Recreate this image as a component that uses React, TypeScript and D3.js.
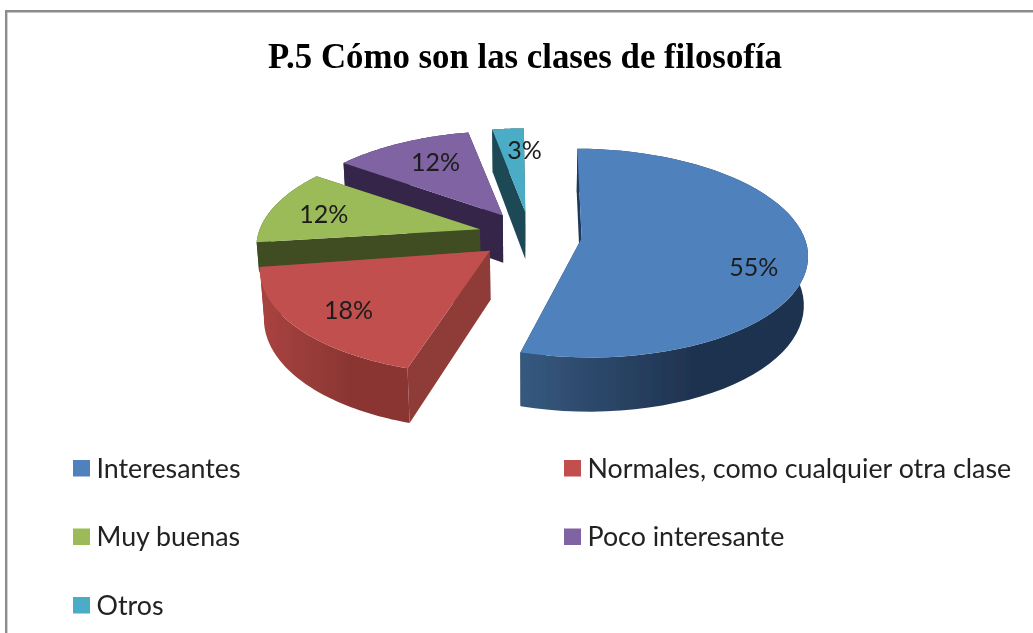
import React from "react";
import * as d3 from "d3";

const chartTitle = "P.5 Cómo son las clases de filosofía";
const categories = ["Interesantes", "Normales, como cualquier otra clase", "Muy buenas", "Poco interesante", "Otros"];
const shares = [54.5, 18.3, 12.1, 12.1, 3.0];
const topColors = ["#4f81bd", "#c0504d", "#9bbb59", "#8064a2", "#4bacc6"];
const cutColors = ["#1f3a5c", "#8f3a37", "#414d23", "#35264a", "#1e4954"];
const wallStops = [
  ["#36597f", "#1f3350", "#1f3350"],
  ["#a8433f", "#8a3533", "#8a3533"],
  ["#414d23", "#414d23", "#414d23"],
  ["#35264a", "#35264a", "#35264a"],
  ["#1e4954", "#1e4954", "#1e4954"],
];

const W = 1033, H = 633;
const CX = 530, CY = 235, RX = 222, RY = 101.4, DEPTH = 49, KV = 0.14, KZ = 0.015, EXPLODE = 0.234;
const INSET = (0.6 * Math.PI) / 180;

type Pt = [number, number];
const project = (u: number, v: number, z: number): Pt => {
  const s = 1 / (1 - KV * v + KZ * z);
  return [CX + RX * u * s, CY + (RY * v + DEPTH * z) * s];
};

const pie = d3.pie<number>().sort(null).value((d) => d);
const arcs = pie(shares);
const line = d3.line<Pt>();
const total = d3.sum(shares);
const pct = (v: number) => `${Math.round((v / total) * 100 + 0.001)}%`;

function sliceGeometry(a: d3.PieArcDatum<number>) {
  const mid = (a.startAngle + a.endAngle) / 2;
  const ox = EXPLODE * Math.sin(mid), oy = -EXPLODE * Math.cos(mid);
  const at = (ang: number, r: number, z: number) =>
    project(ox + r * Math.sin(ang), oy - r * Math.cos(ang), z);
  const a0 = a.startAngle + INSET, a1 = a.endAngle - INSET;
  const steps = d3.range(0, 61).map((i) => a0 + ((a1 - a0) * i) / 60);
  const rim = (z: number) => steps.map((ang) => at(ang, 1, z));
  const apex = (z: number) => project(ox, oy, z);
  return { mid, at, rim, apex };
}

const labelNudges: Pt[] = [[10, 18], [-6, 6], [-7, 2], [8, 1], [12, 0]];
const paintOrder = [4, 3, 2, 1, 0];
// The green wall is almost entirely hidden behind the red slice: only its upper part is drawn.
const wallFraction = [1, 1, 0.6, 1, 1];

export default function App() {
  const geoms = arcs.map(sliceGeometry);
  return (
    <svg width={W} height={H} viewBox={`0 0 ${W} ${H}`} style={{ position: "absolute", left: 0, top: 0, display: "block" }}>
      <defs>
        <filter id="soft" x="-5%" y="-5%" width="110%" height="110%">
          <feGaussianBlur stdDeviation="0.45" />
        </filter>
        {arcs.map((a, i) => {
          const xs = geoms[i].rim(1).map((p) => p[0]);
          const [x0, x1] = d3.extent(xs) as [number, number];
          return (
            <linearGradient key={i} id={`wall${i}`} gradientUnits="userSpaceOnUse" x1={x0} x2={x1} y1={0} y2={0}>
              <stop offset="0" stopColor={wallStops[i][0]} />
              <stop offset="0.6" stopColor={wallStops[i][1]} />
              <stop offset="1" stopColor={wallStops[i][2]} />
            </linearGradient>
          );
        })}
      </defs>
      <rect width={W} height={H} fill="#fff" />
      <path d={`M6.2 ${H}V11.2H${W}`} fill="none" stroke="#8c8c8c" strokeWidth={2.4} />
      <text x={525} y={67.5} textAnchor="middle" fontFamily="'Liberation Serif', serif" fontWeight="bold" fontSize={34.8} fill="#000" filter="url(#soft)">
        {chartTitle}
      </text>

      <g filter="url(#soft)">
        {paintOrder.map((i) => {
          const g = geoms[i];
          const zb = wallFraction[i];
          const top = g.rim(0), bottom = g.rim(zb);
          const wall = [...top, ...bottom.slice().reverse()];
          const startCut = [g.apex(0), top[0], bottom[0], g.apex(zb)];
          const endCut = [g.apex(0), top[top.length - 1], bottom[bottom.length - 1], g.apex(zb)];
          return (
            <g key={i}>
              <path d={line(endCut) + "Z"} fill={cutColors[i]} />
              <path d={line(wall) + "Z"} fill={`url(#wall${i})`} />
              <path d={line(startCut) + "Z"} fill={cutColors[i]} />
              <path d={line([g.apex(0), ...top]) + "Z"} fill={topColors[i]} />
            </g>
          );
        })}
      </g>

      <g filter="url(#soft)" fontFamily="Lato, sans-serif" fontSize={25} fill="#1c1c1c" textAnchor="middle">
        {arcs.map((a, i) => {
          const [x, y] = geoms[i].at(geoms[i].mid, 0.72, 0);
          return (
            <text key={i} x={x + labelNudges[i][0]} y={y + labelNudges[i][1]} dy="0.35em">
              {pct(a.data)}
            </text>
          );
        })}
      </g>

      <g filter="url(#soft)" fontFamily="Lato, sans-serif" fontSize={26.8} fill="#222">
        {categories.map((c, i) => {
          const col = i % 2, row = Math.floor(i / 2);
          const x = col === 0 ? 73 : 564;
          const y = 460 + row * 68.5;
          return (
            <g key={c}>
              <rect x={x} y={y} width={17} height={16.5} fill={topColors[i]} />
              <text x={x + 23.5} y={y + 8} dy="0.36em">{c}</text>
            </g>
          );
        })}
      </g>
    </svg>
  );
}
